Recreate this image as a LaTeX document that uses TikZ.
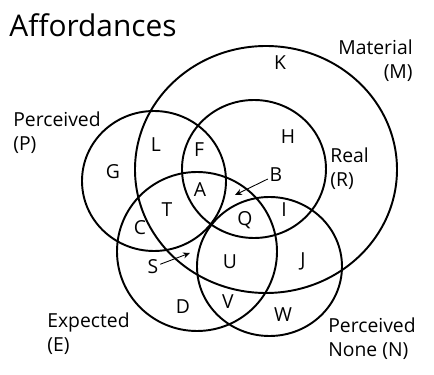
\documentclass[tikz,border=0pt]{standalone}
\usepackage{fontspec}
\setmainfont{Open Sans}
\usepackage{tikz}
\usetikzlibrary{arrows.meta,positioning}

\tikzset{
  set/.style={line width=1.1pt},
  region/.style={font=\fontsize{11}{12}\selectfont, inner sep=0pt},
  setname/.style={font=\fontsize{11}{14}\selectfont, inner sep=0pt, align=left},
  pointer/.style={-{Stealth[length=4pt,width=3.5pt]}, line width=0.5pt, shorten <=1pt}
}

\begin{document}
\begin{tikzpicture}[x=0.02cm, y=-0.02cm]
    \useasboundingbox (0,0) rectangle (434,375);

    % Title
    \node[font=\fontsize{17}{18}\selectfont, inner sep=0pt] (title) at (93,25) {Affordances};

    % The five sets
    \draw[set] (266,169.5) ellipse [x radius=131, y radius=123.5];
    \draw[set] (154,181) ellipse [x radius=72, y radius=70];
    \draw[set] (254,169) ellipse [x radius=72, y radius=69];
    \draw[set] (197,251.5) ellipse [x radius=80, y radius=79.5];
    \draw[set] (269.5,266.5) ellipse [x radius=72.5, y radius=69.5];

    % Set names
    \node[setname, align=right, anchor=north east] (matl) at (413,39) {Material\\(M)};
    \node[setname, anchor=north west] (perc) at (13,111) {Perceived\\(P)};
    \node[setname, anchor=north west] (real) at (330,147) {Real\\(R)};
    \node[setname, anchor=north west] (expt) at (47,312) {Expected\\(E)};
    \node[setname, anchor=north west] (none) at (328,317) {Perceived\\None (N)};

    % Regions
    \node[region] (K) at (280,63) {K};
    \node[region] (L) at (156,145) {L};
    \node[region] (F) at (199,150) {F};
    \node[region] (H) at (288,137) {H};
    \node[region] (G) at (113,172) {G};
    \node[region] (B) at (276,175) {B};
    \node[region] (A) at (200,190) {A};
    \node[region] (T) at (167,210) {T};
    \node[region] (I) at (284,210) {I};
    \node[region] (Q) at (245,220) {Q};
    \node[region] (C) at (140,228) {C};
    \node[region] (S) at (153,267) {S};
    \node[region] (U) at (230,262) {U};
    \node[region] (J) at (303,261) {J};
    \node[region] (D) at (183,307) {D};
    \node[region] (V) at (228,302) {V};
    \node[region] (W) at (283,315) {W};

    % Pointers
    \coordinate (Bend) at (235,195);
    \coordinate (Send) at (190,253);
    \draw[pointer] (B) -- (Bend);
    \draw[pointer] (S) -- (Send);
\end{tikzpicture}
\end{document}
